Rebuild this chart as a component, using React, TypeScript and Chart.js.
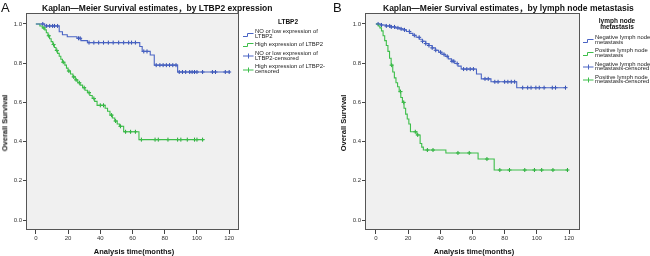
import React, { useEffect, useRef } from "react";
import { Chart, registerables } from "chart.js";

Chart.register(...registerables);

const FONT = "'Liberation Sans', Arial, 'Noto Sans CJK SC', sans-serif";

const X_TICKS = [0, 20, 40, 60, 80, 100, 120];
const Y_TICKS = [0, 0.2, 0.4, 0.6, 0.8, 1.0];

const TITLE_A = "Kaplan—Meier Survival estimates，by LTBP2 expression";
const TITLE_B = "Kaplan—Meier Survival estimates，by lymph node metastasis";
const X_TITLE = "Analysis time(months)";
const Y_TITLE = "Overall Survival";

// Panel A: NO or low expression of LTBP2
const LOW_A_TIME = [0, 5.5, 14.5, 16.5, 19.5, 25.5, 28, 32, 64.5, 66, 71, 73.5, 88, 120];
const LOW_A_SURV = [1.0, 0.99, 0.96, 0.945, 0.935, 0.927, 0.915, 0.905, 0.885, 0.86, 0.842, 0.79, 0.755, 0.755];
const LOW_A_CENSOR = [4.3, 6.7, 8.6, 10.4, 11.6, 13.5, 26.5, 27.5, 33, 36, 39, 42, 45, 48, 51.4, 54.5, 57.6, 59.4, 61.8, 67, 69, 74.7, 77, 79, 81, 83, 85, 87, 89, 91, 93, 95.5, 97, 98.5, 100, 103.5, 109.6, 111.5, 117.6, 120];

// Panel A: High expression of LTBP2
const HIGH_A_TIME = [0, 2.5, 4, 5.5, 6.5, 7.5, 8.5, 9.5, 10.5, 11.5, 12.5, 13.5, 14.5, 15.5, 16.5, 18, 19, 20, 21.5, 23, 24.5, 26, 27.5, 29, 30.5, 32, 33.5, 35, 36.5, 38, 43, 44.5, 46, 47.5, 49, 50.5, 52, 54.5, 64, 104.5];
const HIGH_A_SURV = [1.0, 0.99, 0.98, 0.97, 0.955, 0.94, 0.925, 0.91, 0.895, 0.88, 0.865, 0.85, 0.835, 0.82, 0.805, 0.79, 0.775, 0.76, 0.745, 0.73, 0.715, 0.70, 0.688, 0.675, 0.662, 0.65, 0.635, 0.62, 0.605, 0.585, 0.57, 0.555, 0.535, 0.52, 0.505, 0.49, 0.478, 0.45, 0.41, 0.41];
const HIGH_A_CENSOR = [5, 8, 11, 13, 17, 20.5, 23.5, 25, 27, 30, 33, 36, 40, 42, 47, 49.5, 52.5, 55.7, 58.8, 61.8, 65.5, 74, 76, 82, 88, 90, 94, 98.5, 100, 103.5];

// Panel B: Negative lymph node metastasis
const NEG_B_TIME = [0, 3, 6, 9, 12, 15, 17, 19, 21, 23, 25, 27, 29, 31, 33, 35, 37, 39, 41, 43, 45, 47, 49, 51, 53, 62.5, 65.5, 71.5, 87.5, 118];
const NEG_B_SURV = [1.0, 0.995, 0.99, 0.985, 0.98, 0.975, 0.97, 0.962, 0.952, 0.942, 0.932, 0.922, 0.912, 0.9, 0.89, 0.878, 0.866, 0.856, 0.845, 0.835, 0.822, 0.81, 0.798, 0.785, 0.77, 0.745, 0.72, 0.705, 0.675, 0.675];
const NEG_B_CENSOR = [1.4, 3.5, 6.5, 8.6, 9.6, 11.6, 13.7, 15.7, 17.8, 20.8, 23.9, 26.9, 29, 31, 33, 35, 37.2, 40.2, 42.3, 44.3, 47.3, 48.4, 50.5, 54.5, 56.5, 58.6, 60.6, 67.8, 69.8, 73.9, 75.9, 80, 82, 84.1, 86.2, 91.2, 94.3, 96.4, 99.4, 101.5, 104.5, 109.6, 111.6, 117.8];

// Panel B: Positive lymph node metastasis
const POS_B_TIME = [0, 1.5, 2.5, 3.5, 4.5, 5.5, 6.5, 7.5, 8.5, 9.5, 10.5, 11.5, 12.5, 13.5, 14.5, 15.5, 16.5, 17.5, 18.5, 19.5, 20.5, 21.5, 25.5, 27.5, 28.5, 29.5, 43.5, 63.5, 73.5, 119];
const POS_B_SURV = [1.0, 0.99, 0.98, 0.965, 0.94, 0.915, 0.89, 0.86, 0.825, 0.79, 0.755, 0.725, 0.70, 0.68, 0.655, 0.625, 0.60, 0.57, 0.54, 0.515, 0.49, 0.45, 0.434, 0.39, 0.372, 0.357, 0.342, 0.311, 0.255, 0.255];
const POS_B_CENSOR = [9.8, 15.3, 17.3, 24.5, 26, 32, 35.5, 51, 58, 69, 77, 83, 92.5, 98.5, 103, 110, 119];

const LEGEND_A_TITLE = ["LTBP2"];
const LEGEND_A_LABELS = [
  ["NO or low expression of", "LTBP2"],
  ["High expression of LTBP2"],
  ["NO or low expression of", "LTBP2-censored"],
  ["High expression of LTBP2-", "censored"],
];
const LEGEND_B_TITLE = ["lymph node", "metastasis"];
const LEGEND_B_LABELS = [
  ["Negative lymph node", "metastasis"],
  ["Positive lymph node", "metastasis"],
  ["Negative lymph node", "metastasis-censored"],
  ["Positive lymph node", "metastasis-censored"],
];

const BLUE = "#4a64c4";
const BLUE_MARK = "#2f4bb0";
const GREEN = "#3dbe4a";
const GREEN_MARK = "#22a834";

function survAt(times: number[], surv: number[], t: number) {
  let s = surv[0];
  for (let i = 0; i < times.length; i++) {
    if (times[i] <= t) s = surv[i];
  }
  return s;
}

type Series = { time: number[]; surv: number[]; censor: number[]; color: string; mark: string };

function KMCanvas(props: {
  left: number;
  width: number;
  plotLeft: number;
  plotRight: number;
  xMin: number;
  xMax: number;
  series: Series[];
}) {
  const ref = useRef<HTMLCanvasElement>(null);
  const { left, width, plotLeft, plotRight, xMin, xMax, series } = props;
  const height = 256;
  useEffect(() => {
    const canvas = ref.current!;
    const datasets: any[] = [];
    series.forEach((s) => {
      datasets.push({
        data: s.time.map((t, i) => ({ x: t, y: s.surv[i] })),
        stepped: "before",
        borderColor: s.color,
        borderWidth: 1.1,
        pointRadius: 0,
        fill: false,
      });
    });
    series.forEach((s) => {
      datasets.push({
        data: s.censor.map((t) => ({ x: t, y: survAt(s.time, s.surv, t) })),
        showLine: false,
        pointStyle: "cross",
        pointRadius: 2,
        pointBorderColor: s.mark,
        pointBackgroundColor: s.mark,
        pointBorderWidth: 1,
      });
    });
    const boxPlugin = {
      id: "plotBox",
      beforeDatasetsDraw(chart: any) {
        const { ctx, chartArea: a } = chart;
        ctx.save();
        ctx.fillStyle = "#f0f0f0";
        ctx.fillRect(a.left, a.top, a.right - a.left, a.bottom - a.top);
        ctx.strokeStyle = "#555555";
        ctx.lineWidth = 1;
        ctx.strokeRect(a.left + 0.5, a.top + 0.5, a.right - a.left - 1, a.bottom - a.top - 1);
        ctx.restore();
      },
    };
    const tickFont = { family: FONT, size: 6 };
    const chart = new Chart(canvas, {
      type: "line",
      data: { datasets },
      plugins: [boxPlugin],
      options: {
        animation: false,
        responsive: false,
        devicePixelRatio: 1,
        events: [],
        layout: { padding: { left: 0, top: 13, right: width - plotRight, bottom: 0 } },
        plugins: { legend: { display: false }, tooltip: { enabled: false }, title: { display: false } },
        scales: {
          x: {
            type: "linear",
            min: xMin,
            max: xMax,
            afterBuildTicks: (s: any) => {
              s.ticks = X_TICKS.map((v) => ({ value: v }));
            },
            afterFit: (s: any) => {
              s.height = height - 230;
            },
            grid: { display: true, drawOnChartArea: false, drawTicks: true, tickLength: 4, color: "#444", lineWidth: 1 },
            border: { display: false },
            ticks: {
              font: tickFont,
              color: "#333",
              padding: 1,
              maxRotation: 0,
              autoSkip: false,
              callback: (v: any) => String(v),
            },
          },
          y: {
            type: "linear",
            min: -0.051,
            max: 1.056,
            afterBuildTicks: (s: any) => {
              s.ticks = Y_TICKS.map((v) => ({ value: v }));
            },
            afterFit: (s: any) => {
              s.width = plotLeft;
            },
            grid: { display: true, drawOnChartArea: false, drawTicks: true, tickLength: 3, color: "#444", lineWidth: 1 },
            border: { display: false },
            ticks: {
              font: tickFont,
              color: "#333",
              padding: 1,
              autoSkip: false,
              callback: (v: any) => Number(v).toFixed(1),
            },
          },
        },
      } as any,
    });
    return () => chart.destroy();
  }, []);
  return (
    <canvas
      ref={ref}
      width={width}
      height={height}
      style={{ position: "absolute", left, top: 0, width, height }}
    />
  );
}

function Txt(props: { x: number; y: number; size: number; bold?: boolean; anchor?: "middle" | "start"; rotate?: boolean; children: any; color?: string }) {
  const { x, y, size, bold, anchor = "middle", rotate, children, color = "#111" } = props;
  const tx = anchor === "middle" ? "-50%" : "0";
  return (
    <div
      style={{
        position: "absolute",
        left: x,
        top: y,
        transform: `translate(${tx}, -50%)${rotate ? " rotate(-90deg)" : ""}`,
        fontSize: size,
        fontWeight: bold ? "bold" : "normal",
        lineHeight: 1,
        whiteSpace: "nowrap",
        color,
        fontFamily: FONT,
      }}
    >
      {children}
    </div>
  );
}

function Legend(props: { x: number; titleX: number; titleY: number; titleLines: string[]; top: number; labels: string[][]; colors: string[]; censored: boolean[] }) {
  const { x, titleX, titleY, titleLines, top, labels, colors, censored } = props;
  const L = 4.5;
  const G = 4.2;
  const items: any[] = [];
  titleLines.forEach((t, i) => {
    items.push(
      <Txt key={"h" + i} x={titleX} y={titleY + i * 6} size={6.5} bold>
        {t}
      </Txt>
    );
  });
  let y = top;
  labels.forEach((lines, i) => {
    const h = lines.length * L;
    const cy = y + h / 2;
    const c = colors[i];
    items.push(
      <svg key={"s" + i} width={11} height={8} style={{ position: "absolute", left: x, top: cy - 4 }}>
        {censored[i] ? (
          <path d="M0,4 H10.5 M5.5,1.5 V6.5" stroke={c} strokeWidth={1} fill="none" />
        ) : (
          <path d="M0,5.5 H4.5 V2.5 H10.5" stroke={c} strokeWidth={1} fill="none" />
        )}
      </svg>
    );
    lines.forEach((ln, j) => {
      items.push(
        <Txt key={"t" + i + "_" + j} x={x + 12} y={y + j * L + L / 2} size={5.9} anchor="start" color="#222">
          {ln}
        </Txt>
      );
    });
    y += h + G;
  });
  return <>{items}</>;
}

export default function App() {
  const seriesA: Series[] = [
    { time: LOW_A_TIME, surv: LOW_A_SURV, censor: LOW_A_CENSOR, color: BLUE, mark: BLUE_MARK },
    { time: HIGH_A_TIME, surv: HIGH_A_SURV, censor: HIGH_A_CENSOR, color: GREEN, mark: GREEN_MARK },
  ];
  const seriesB: Series[] = [
    { time: NEG_B_TIME, surv: NEG_B_SURV, censor: NEG_B_CENSOR, color: BLUE, mark: BLUE_MARK },
    { time: POS_B_TIME, surv: POS_B_SURV, censor: POS_B_CENSOR, color: GREEN, mark: GREEN_MARK },
  ];
  const legendColors = [BLUE, GREEN, BLUE, GREEN];
  const legendCens = [false, false, true, true];
  return (
    <div style={{ position: "absolute", left: 0, top: 0, width: 650, height: 256, background: "#fff", overflow: "hidden", fontFamily: FONT }}>
      <KMCanvas left={0} width={244} plotLeft={26} plotRight={242} xMin={-6.12} xMax={126.1} series={seriesA} />
      <KMCanvas left={339} width={246} plotLeft={26} plotRight={244} xMin={-6.74} xMax={126.8} series={seriesB} />

      <Txt x={1} y={7} size={13} anchor="start">A</Txt>
      <Txt x={333} y={7} size={13} anchor="start">B</Txt>

      <Txt x={42} y={7.5} size={8.5} bold anchor="start">{TITLE_A}</Txt>
      <Txt x={383} y={7.5} size={8.5} bold anchor="start">{TITLE_B}</Txt>

      <Txt x={4.5} y={123} size={7.5} bold rotate>{Y_TITLE}</Txt>
      <Txt x={343.5} y={123} size={7.5} bold rotate>{Y_TITLE}</Txt>

      <Txt x={134} y={251.5} size={7.5} bold>{X_TITLE}</Txt>
      <Txt x={474} y={251.5} size={7.5} bold>{X_TITLE}</Txt>

      <Legend x={243} titleX={288} titleY={22} titleLines={LEGEND_A_TITLE} top={30} labels={LEGEND_A_LABELS} colors={legendColors} censored={legendCens} />
      <Legend x={583} titleX={617} titleY={21} titleLines={LEGEND_B_TITLE} top={36} labels={LEGEND_B_LABELS} colors={legendColors} censored={legendCens} />
    </div>
  );
}
